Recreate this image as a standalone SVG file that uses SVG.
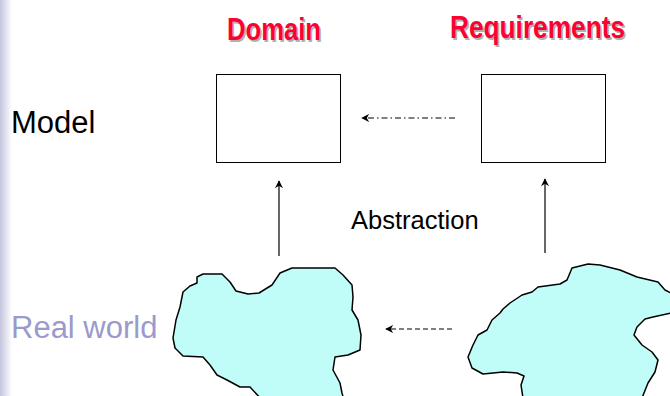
<svg xmlns="http://www.w3.org/2000/svg" width="670" height="396" viewBox="0 0 670 396">
  <defs>
    <linearGradient id="edge" x1="0" y1="0" x2="1" y2="0">
      <stop offset="0" stop-color="#c4c4de"/>
      <stop offset="1" stop-color="#ffffff"/>
    </linearGradient>
    <marker id="head" viewBox="0 0 10 10" refX="9" refY="5" markerWidth="8" markerHeight="8" markerUnits="userSpaceOnUse" orient="auto">
      <path d="M0,0 L10,5 L0,10 L3,5 Z" fill="#000"/>
    </marker>
    <style>
      .title { font-family: "Liberation Sans Narrow", "Liberation Sans", Arial, sans-serif; font-weight: bold; font-size: 31px; }
      .title-fg { fill: #ff0033; }
      .title-sh { fill: #b0b0b0; }
      .label { font-family: "Liberation Sans", Arial, sans-serif; font-size: 31px; }
      .small { font-size: 25.5px; }
      .box { fill: #ffffff; stroke: #000; stroke-width: 1; }
      .blob { fill: #c0fcf8; stroke: #000; stroke-width: 1.5; stroke-linejoin: round; }
      .conn { stroke: #000; stroke-width: 1.2; fill: none; marker-end: url(#head); }
    </style>
  </defs>

  <rect width="670" height="396" fill="#ffffff"/>
  <rect x="0" y="0" width="12" height="396" fill="url(#edge)"/>

  <!-- column headings, each with a soft drop shadow -->
  <g id="heading-domain">
    <text class="title title-sh" x="228.5" y="41.5" textLength="94" lengthAdjust="spacingAndGlyphs">Domain</text>
    <text class="title title-fg" x="227" y="40" textLength="94" lengthAdjust="spacingAndGlyphs">Domain</text>
  </g>
  <g id="heading-requirements">
    <text class="title title-sh" x="451.5" y="39.5" textLength="175" lengthAdjust="spacingAndGlyphs">Requirements</text>
    <text class="title title-fg" x="450" y="38" textLength="175" lengthAdjust="spacingAndGlyphs">Requirements</text>
  </g>

  <!-- row labels -->
  <g id="label-model">
    <text class="label" x="11" y="133" fill="#000">Model</text>
  </g>
  <g id="label-real-world">
    <text class="label" x="11" y="338" fill="#9a9acd">Real world</text>
  </g>

  <!-- model boxes -->
  <g id="domain-model">
    <rect class="box" x="216.5" y="74.5" width="124" height="88"/>
  </g>
  <g id="requirements-model">
    <rect class="box" x="481.5" y="74.5" width="124" height="88"/>
  </g>

  <!-- real-world regions -->
  <g id="domain-world">
    <path class="blob" d="M203,274 L222,274 L230,282 L236,291 L248,294 L259,293 L272,285 L280,273 L292,268 L335,268 L343,275 L352,285 L353,297 L352,310 L358,320 L361,335 L360,350 L348,355 L335,357 L333,370 L340,383 L342,393 L344,400 L262,400 L250,387 L240,387 L227,380 L217,375 L210,365 L203,357 L183,356 L175,348 L173,338 L176,320 L180,307 L183,292 L190,286 L197,283 L197,277 Z"/>
  </g>
  <g id="requirements-world">
    <path class="blob" d="M572,268 L588,264 L600,265 L620,270 L637,277 L658,282 L665,290 L671,293 L671,313 L653,317 L645,319 L637,327 L634,335 L642,345 L652,352 L658,360 L655,372 L648,383 L642,398 L523,398 L521,385 L524,376 L517,373 L503,372 L483,374 L472,368 L468,357 L473,345 L478,335 L487,330 L492,320 L500,313 L503,309 L510,303 L522,295 L532,292 L538,287 L560,284 L567,280 Z"/>
  </g>

  <g id="label-abstraction">
    <text class="label small" x="351" y="229" fill="#000">Abstraction</text>
  </g>

  <!-- connectors -->
  <g id="connectors">
    <line class="conn" x1="279" y1="256" x2="279" y2="181"/>
    <line class="conn" x1="545" y1="253" x2="545" y2="179"/>
    <line class="conn" x1="455" y1="118" x2="362" y2="118" stroke-dasharray="6,3,1.5,3"/>
    <line class="conn" x1="452" y1="329" x2="386" y2="329" stroke-dasharray="5,3"/>
  </g>
</svg>
